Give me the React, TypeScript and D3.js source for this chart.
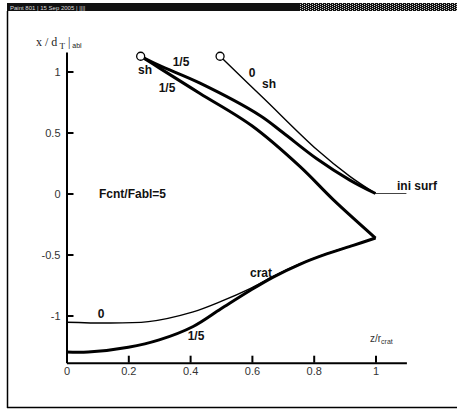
import React, { useEffect, useRef } from 'react';
import * as d3 from 'd3';

// shock front (t = 0), thin line
const sh0Z = [0.497, 0.642, 0.81, 0.917, 1];
const sh0X = [1.125, 0.77, 0.36, 0.14, 0];

// shock front (t = 1/5), thick line
const sh5Z = [0.24, 0.3, 0.432, 0.626, 0.7, 0.81, 0.917, 1];
const sh5X = [1.125, 1.05, 0.905, 0.64, 0.5, 0.285, 0.11, 0];

// second 1/5 branch, from the shock point down to the crater rim
const wall5Z = [0.24, 0.3, 0.432, 0.6, 0.756, 0.863, 1];
const wall5X = [1.125, 1.03, 0.82, 0.555, 0.22, -0.05, -0.365];

// crater profile t = 0
const crat0Z = [0, 0.265, 0.41, 0.5, 0.594, 0.669, 0.755, 0.842, 0.928, 1];
const crat0X = [-1.055, -1.05, -0.97, -0.885, -0.78, -0.68, -0.578, -0.493, -0.425, -0.365];

// crater profile t = 1/5
const crat5Z = [0, 0.07, 0.2, 0.3, 0.41, 0.5, 0.594, 0.669, 0.755, 0.842, 0.928, 1];
const crat5X = [-1.3, -1.3, -1.26, -1.2, -1.09, -0.945, -0.795, -0.685, -0.58, -0.495, -0.425, -0.365];

// initial surface
const iniZ = [1, 1.1];
const iniX = [0, 0];

const xTicks = [0, 0.2, 0.4, 0.6, 0.8, 1];
const yTicks = [-1, -0.5, 0, 0.5, 1];

const zip = (a: number[], b: number[]) => a.map((v, i) => ({ z: v, x: b[i] }));

const App = () => {
    const svgRef = useRef<SVGSVGElement>(null);

    useEffect(() => {
        const svg = d3.select(svgRef.current);
        svg.selectAll('*:not(defs):not(defs *)').remove();

        const x = d3.scaleLinear().domain([0, 1.1]).range([66.5, 406.4]);
        const y = d3.scaleLinear().domain([-1.387, 1.16]).range([362.7, 52]);

        // frame + title bar
        svg.append('rect').attr('x', 7).attr('y', 3).attr('width', 450).attr('height', 8).attr('fill', '#111');
        svg.append('rect').attr('x', 300).attr('y', 3).attr('width', 157).attr('height', 8).attr('fill', 'url(#dith)');
        svg.append('text').attr('x', 10).attr('y', 10).attr('font-size', 6).attr('fill', '#ddd')
            .attr('font-family', 'Liberation Sans, Arial, sans-serif').text('Paint 801 | 15 Sep 2005 | ||||');
        svg.append('line').attr('x1', 7.5).attr('x2', 7.5).attr('y1', 11).attr('y2', 408).attr('stroke', '#000').attr('stroke-width', 1.5);
        svg.append('line').attr('x1', 7).attr('x2', 457).attr('y1', 407.5).attr('y2', 407.5).attr('stroke', '#000').attr('stroke-width', 1.5);

        const fmt = (d: any) => String(d);

        const gx = svg.append('g').attr('transform', `translate(0, ${y(-1.387)})`)
            .call(d3.axisBottom(x).tickValues(xTicks).tickSizeInner(-7).tickSizeOuter(0).tickPadding(5).tickFormat(fmt));
        const gy = svg.append('g').attr('transform', `translate(${x(0)}, 0)`)
            .call(d3.axisLeft(y).tickValues(yTicks).tickSizeInner(-7).tickSizeOuter(0).tickPadding(6).tickFormat(fmt));
        [gx, gy].forEach((g) => {
            g.select('.domain').attr('stroke-width', 2);
            g.selectAll('.tick line').attr('stroke-width', 2);
            g.selectAll('.tick text').attr('font-size', 11).attr('fill', '#333')
                .attr('font-family', 'Liberation Sans, Arial, sans-serif');
        });

        const line = d3.line<{ z: number; x: number }>()
            .x((d) => x(d.z))
            .y((d) => y(d.x))
            .curve(d3.curveCatmullRom.alpha(0.5));

        const draw = (data: { z: number; x: number }[], w: number, color = '#000') =>
            svg.append('path').datum(data).attr('fill', 'none').attr('stroke', color)
                .attr('stroke-width', w).attr('stroke-linejoin', 'round').attr('d', line);

        draw(zip(iniZ, iniX), 1, '#444');
        draw(zip(crat5Z, crat5X), 3);
        draw(zip(crat0Z, crat0X), 1.4);
        draw(zip(wall5Z, wall5X), 3);
        draw(zip(sh5Z, sh5X), 3);
        draw(zip(sh0Z, sh0X), 1.4);

        // shock start markers
        [[sh5Z[0], sh5X[0]], [sh0Z[0], sh0X[0]]].forEach(([a, b]) => {
            svg.append('circle').attr('cx', x(a)).attr('cy', y(b)).attr('r', 4)
                .attr('fill', '#fff').attr('stroke', '#000').attr('stroke-width', 1.3);
        });

        const labels: [number, number, string][] = [
            [181, 66, '1/5'],
            [145, 74, 'sh'],
            [167, 92, '1/5'],
            [252, 77, '0'],
            [269, 88, 'sh'],
            [417, 190, 'ini surf'],
            [261, 277, 'crat'],
            [101, 318, '0'],
            [196, 340, '1/5'],
        ];
        labels.forEach(([lx, ly, t]) => {
            svg.append('text').attr('x', lx).attr('y', ly).attr('text-anchor', 'middle')
                .attr('font-family', 'Liberation Sans, Arial, sans-serif').attr('font-size', 12)
                .attr('font-weight', 'bold').attr('fill', '#111').text(t);
        });
        svg.append('text').attr('x', 99).attr('y', 198)
            .attr('font-family', 'Liberation Sans, Arial, sans-serif').attr('font-size', 12)
            .attr('font-weight', 'bold').attr('fill', '#111').text('Fcnt/Fabl=5');

        // axis titles
        const yt = svg.append('text').attr('x', 36).attr('y', 46)
            .attr('font-family', 'Liberation Serif, Times New Roman, serif').attr('font-size', 12).attr('fill', '#222');
        yt.append('tspan').text('x / d');
        yt.append('tspan').attr('font-size', 9).attr('dy', 3).text(' T');
        yt.append('tspan').attr('dy', -3).text(' |');
        yt.append('tspan').attr('font-size', 7).attr('dy', 2).attr('font-family', 'Liberation Sans, Arial, sans-serif').text(' abl');

        const xt = svg.append('text').attr('x', 370).attr('y', 342)
            .attr('font-family', 'Liberation Sans, Arial, sans-serif').attr('font-size', 10).attr('fill', '#333');
        xt.append('tspan').text('z/r');
        xt.append('tspan').attr('font-size', 7).attr('dy', 2).text('crat');
    }, []);

    return (
        <svg ref={svgRef} width={457} height={409} style={{ position: 'absolute', left: 0, top: 0, background: '#fff' }}>
            <defs>
                <pattern id="dith" width="4" height="2" patternUnits="userSpaceOnUse">
                    <rect width="4" height="2" fill="#111" />
                    <rect x="0" y="0" width="1" height="1" fill="#ccc" />
                    <rect x="2" y="1" width="1" height="1" fill="#ccc" />
                </pattern>
            </defs>
        </svg>
    );
};

export default App;
